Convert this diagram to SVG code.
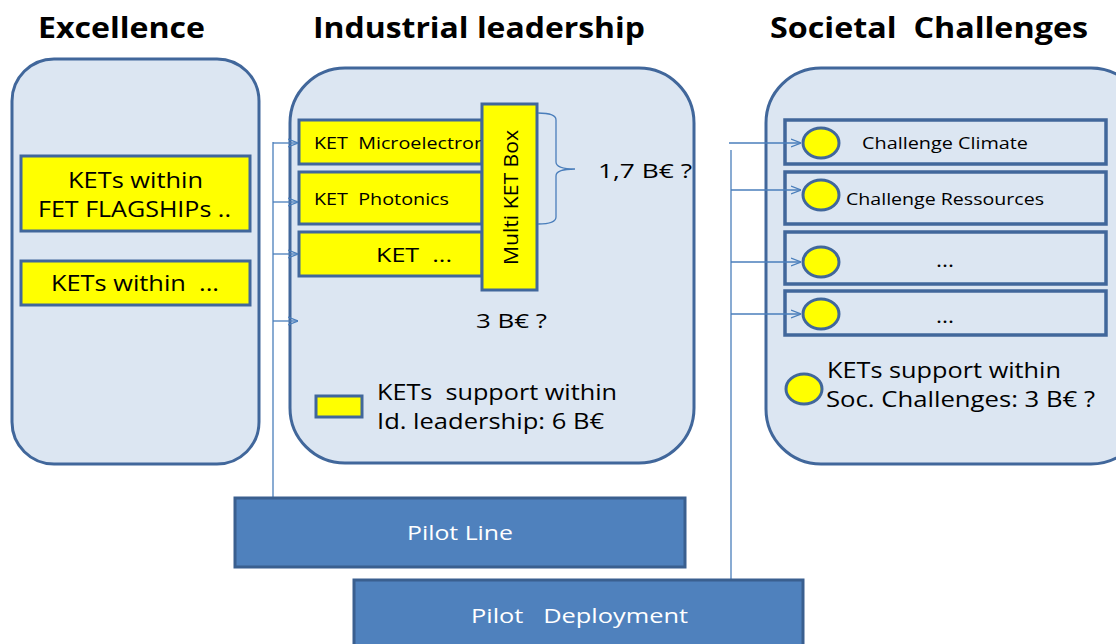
<svg xmlns="http://www.w3.org/2000/svg" width="1116" height="644" viewBox="0 0 1116 644">
<defs>
<style>
.t{font-family:"Open Sans","Liberation Sans",sans-serif;fill:#000;white-space:pre}
.h{font-family:"Open Sans","Liberation Sans",sans-serif;font-weight:bold;font-size:29px;fill:#000;white-space:pre}
.panel{fill:#dce6f2;stroke:#41679b;stroke-width:3}
.yb{fill:#ffff00;stroke:#41679b;stroke-width:3}
.cb{fill:#dce6f2;stroke:#41679b;stroke-width:3.5}
.el{fill:#ffff00;stroke:#41679b;stroke-width:3}
.pb{fill:#4f81bd;stroke:#3a5f8f;stroke-width:3}
.w{font-family:"Open Sans","Liberation Sans",sans-serif;fill:#fff;font-size:20px;white-space:pre}
.c{fill:none;stroke:#4a7ebb;stroke-width:1.3}
</style>
<marker id="ar" viewBox="0 0 10 10" refX="10" refY="5" markerWidth="10" markerHeight="10" markerUnits="userSpaceOnUse" orient="auto">
<path d="M0,1 L10,5 L0,9" fill="none" stroke="#4a7ebb" stroke-width="1.3"/>
</marker>
</defs>
<rect width="1116" height="644" fill="#fff"/>

<g id="titles">
<text class="h" x="38" y="38" textLength="167" lengthAdjust="spacingAndGlyphs">Excellence</text>
<text class="h" x="313" y="38" textLength="332" lengthAdjust="spacingAndGlyphs">Industrial leadership</text>
<text class="h" x="770" y="38" textLength="318" lengthAdjust="spacingAndGlyphs">Societal  Challenges</text>
</g>

<g id="excellence">
<rect class="panel" x="12" y="59" width="247" height="405" rx="42" ry="42"/>
<g id="fet">
<rect class="yb" x="21" y="156" width="229" height="75"/>
<text class="t" font-size="21" x="68" y="188" textLength="135" lengthAdjust="spacingAndGlyphs">KETs within</text>
<text class="t" font-size="21" x="38" y="217" textLength="193" lengthAdjust="spacingAndGlyphs">FET FLAGSHIPs ..</text>
</g>
<g id="ketswithin">
<rect class="yb" x="21" y="261" width="229" height="44"/>
<text class="t" font-size="21" x="51" y="291" textLength="168" lengthAdjust="spacingAndGlyphs">KETs within  ...</text>
</g>
</g>

<g id="industrial">
<rect class="panel" x="290" y="68" width="404" height="395" rx="55" ry="55"/>
<g id="ket-micro">
<rect class="yb" x="299" y="120" width="183" height="44"/>
<text class="t" font-size="16" x="314" y="149" textLength="172" lengthAdjust="spacingAndGlyphs">KET  Microelectron</text>
</g>
<g id="ket-photonics">
<rect class="yb" x="299" y="172" width="183" height="52"/>
<text class="t" font-size="16" x="314" y="205" textLength="135" lengthAdjust="spacingAndGlyphs">KET  Photonics</text>
</g>
<g id="ket-other">
<rect class="yb" x="299" y="232" width="183" height="44"/>
<text class="t" font-size="20" x="376" y="262" textLength="76" lengthAdjust="spacingAndGlyphs">KET  ...</text>
</g>
<g id="multi-ket">
<rect class="yb" x="482" y="104" width="55" height="186"/>
<text class="t" font-size="20" transform="translate(518,265) rotate(-90)" textLength="135" lengthAdjust="spacingAndGlyphs">Multi KET Box</text>
</g>
<g id="brace">
<path d="M538,113 Q556,113 556,120 L556,162 Q556,169 575,169 Q556,169 556,176 L556,217 Q556,224 538,224" fill="none" stroke="#4a7ebb" stroke-width="1.3"/>
<text class="t" font-size="20" x="598" y="178" textLength="94" lengthAdjust="spacingAndGlyphs">1,7 B€ ?</text>
</g>
<text class="t" font-size="20" x="476" y="328" textLength="71" lengthAdjust="spacingAndGlyphs">3 B€ ?</text>
<g id="legend-il">
<rect class="yb" x="316" y="396" width="46" height="21"/>
<text class="t" font-size="21" x="377" y="400" textLength="240" lengthAdjust="spacingAndGlyphs">KETs  support within</text>
<text class="t" font-size="21" x="377" y="429" textLength="227" lengthAdjust="spacingAndGlyphs">Id. leadership: 6 B€</text>
</g>
</g>

<g id="societal">
<rect class="panel" x="766" y="68" width="380" height="396" rx="55" ry="55"/>
<g id="climate">
<rect class="cb" x="785" y="120" width="321" height="44"/>
<ellipse class="el" cx="821" cy="143" rx="18" ry="15"/>
<text class="t" font-size="17" x="862" y="149" textLength="166" lengthAdjust="spacingAndGlyphs">Challenge Climate</text>
</g>
<g id="resources">
<rect class="cb" x="785" y="172" width="321" height="52"/>
<ellipse class="el" cx="821" cy="195" rx="18" ry="15"/>
<text class="t" font-size="17" x="846" y="205" textLength="198" lengthAdjust="spacingAndGlyphs">Challenge Ressources</text>
</g>
<g id="ch3">
<rect class="cb" x="785" y="232" width="321" height="52"/>
<ellipse class="el" cx="821" cy="262" rx="18" ry="15"/>
<text class="t" font-size="20" x="936" y="267" textLength="18" lengthAdjust="spacingAndGlyphs">...</text>
</g>
<g id="ch4">
<rect class="cb" x="785" y="291" width="321" height="44"/>
<ellipse class="el" cx="821" cy="314" rx="18" ry="15"/>
<text class="t" font-size="20" x="936" y="323" textLength="18" lengthAdjust="spacingAndGlyphs">...</text>
</g>
<g id="legend-sc">
<ellipse class="el" cx="804" cy="389" rx="18" ry="15"/>
<text class="t" font-size="21" x="827" y="378" textLength="234" lengthAdjust="spacingAndGlyphs">KETs support within</text>
<text class="t" font-size="21" x="826" y="407" textLength="269" lengthAdjust="spacingAndGlyphs">Soc. Challenges: 3 B€ ?</text>
</g>
</g>

<g id="connectors">
<path class="c" d="M273,497 L273,142"/>
<path class="c" d="M273,143 L298,143" marker-end="url(#ar)"/>
<path class="c" d="M273,202 L298,202" marker-end="url(#ar)"/>
<path class="c" d="M273,254 L298,254" marker-end="url(#ar)"/>
<path class="c" d="M273,321 L298,321" marker-end="url(#ar)"/>
<path class="c" d="M731,580 L731,150"/>
<path class="c" d="M729,143 L801,143" marker-end="url(#ar)"/>
<path class="c" d="M731,190 L801,190" marker-end="url(#ar)"/>
<path class="c" d="M731,262 L801,262" marker-end="url(#ar)"/>
<path class="c" d="M731,314 L801,314" marker-end="url(#ar)"/>
</g>

<g id="pilot-line">
<rect class="pb" x="235" y="498" width="450" height="69"/>
<text class="w" x="407" y="540" textLength="106" lengthAdjust="spacingAndGlyphs">Pilot Line</text>
</g>
<g id="pilot-deployment">
<rect class="pb" x="354" y="580" width="449" height="70"/>
<text class="w" x="471" y="623" textLength="217" lengthAdjust="spacingAndGlyphs">Pilot   Deployment</text>
</g>
</svg>
